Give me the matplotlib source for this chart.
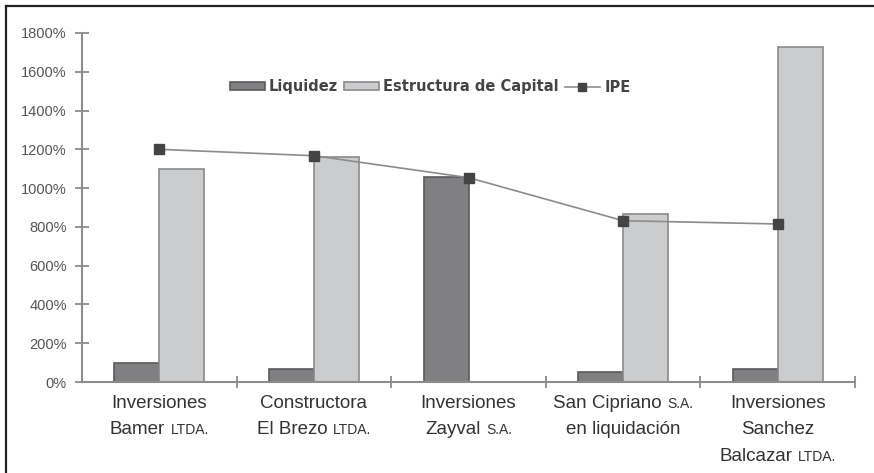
import matplotlib
matplotlib.use("Agg")
import matplotlib.pyplot as plt
from matplotlib.patches import Patch
from matplotlib.lines import Line2D
from matplotlib.offsetbox import TextArea, HPacker, VPacker, AnnotationBbox
import numpy as np

# ---- data ----
categories = [
    [("Inversiones", None), ("Bamer", "LTDA.")],
    [("Constructora", None), ("El Brezo", "LTDA.")],
    [("Inversiones", None), ("Zayval", "S.A.")],
    [("San Cipriano", "S.A."), ("en liquidación", None)],
    [("Inversiones", None), ("Sanchez", None), ("Balcazar", "LTDA.")],
]
liquidez = [100, 65, 1055, 50, 67]
estructura = [1100, 1160, 0, 868, 1730]
ipe = [1200, 1167, 1054, 832, 815]
yticks = [0, 200, 400, 600, 800, 1000, 1200, 1400, 1600, 1800]
series_names = ["Liquidez", "Estructura de Capital", "IPE"]

W, H = 874, 473
fig = plt.figure(figsize=(W / 100, H / 100), dpi=100)
ax = fig.add_axes([82 / W, 1 - 382 / H, (855 - 82) / W, (382 - 33) / H])

x = np.arange(len(liquidez))
bw = 0.29
c_liq, e_liq = "#808083", "#5a5a5c"
c_est, e_est = "#cbcccd", "#8a8a8c"
ax.bar(x - bw / 2, liquidez, bw, color=c_liq, edgecolor=e_liq, linewidth=1.2, zorder=2)
ax.bar(x + bw / 2, estructura, bw, color=c_est, edgecolor=e_est, linewidth=1.2, zorder=2)
ax.plot(x, ipe, color="#8c8c8c", lw=1.2, marker="s", ms=7, mfc="#444446", mec="#444446", zorder=3)

ax.set_xlim(-0.5, len(x) - 0.5)
ax.set_ylim(0, 1800)
ax.set_yticks(yticks)
ax.set_yticklabels([f"{v}%" for v in yticks], fontsize=10.5, color="#555555",
                   family="Liberation Sans")
ax.set_xticks(np.arange(0.5, len(x), 1.0))
ax.set_xticklabels([])
ax.tick_params(axis="y", direction="inout", length=10, width=1.3, color="#8c8c8c", pad=6)
ax.tick_params(axis="x", direction="inout", length=8, width=1.3, color="#8c8c8c")
for s in ["top", "right"]:
    ax.spines[s].set_visible(False)
for s in ["left", "bottom"]:
    ax.spines[s].set_color("#8c8c8c")
    ax.spines[s].set_linewidth(1.5)

# category labels with small caps suffixes
big = dict(fontsize=13.5, color="#333333", family="Liberation Sans")
small = dict(fontsize=10, color="#333333", family="Liberation Sans")
for i, lines in enumerate(categories):
    rows = []
    for main, sc in lines:
        parts = [TextArea(main, textprops=big)]
        if sc:
            parts.append(TextArea(sc, textprops=small))
        rows.append(HPacker(children=parts, sep=4, pad=0, align="baseline"))
    box = VPacker(children=rows, sep=7, pad=0, align="center")
    ab = AnnotationBbox(box, (i, 0), xycoords=("data", "axes fraction"),
                        xybox=(0, -9), boxcoords="offset points",
                        box_alignment=(0.5, 1), frameon=False, pad=0,
                        annotation_clip=False)
    ax.add_artist(ab)

# legend
handles = [
    Patch(facecolor=c_liq, edgecolor=e_liq, linewidth=1.2),
    Patch(facecolor=c_est, edgecolor=e_est, linewidth=1.2),
    Line2D([], [], color="#8c8c8c", lw=1.2, marker="s", ms=6, mfc="#444446", mec="#444446"),
]
leg = ax.legend(handles, series_names, loc="center", bbox_to_anchor=(430 / W, 1 - 87 / H),
                bbox_transform=fig.transFigure, ncol=3, frameon=False,
                handlelength=2.4, handleheight=0.45, handletextpad=0.3, columnspacing=0.4,
                prop=dict(family="DejaVu Sans", weight="bold", size=10.5))
for t in leg.get_texts():
    t.set_color("#444444")

# outer frame (left and top edges)
fig.add_artist(Line2D([6 / W, 6 / W], [0, 1 - 6 / H], transform=fig.transFigure, color="#222222", lw=1.6))
fig.add_artist(Line2D([6 / W, 1], [1 - 6 / H, 1 - 6 / H], transform=fig.transFigure, color="#222222", lw=1.6))

fig.savefig("out.png", dpi=100)
